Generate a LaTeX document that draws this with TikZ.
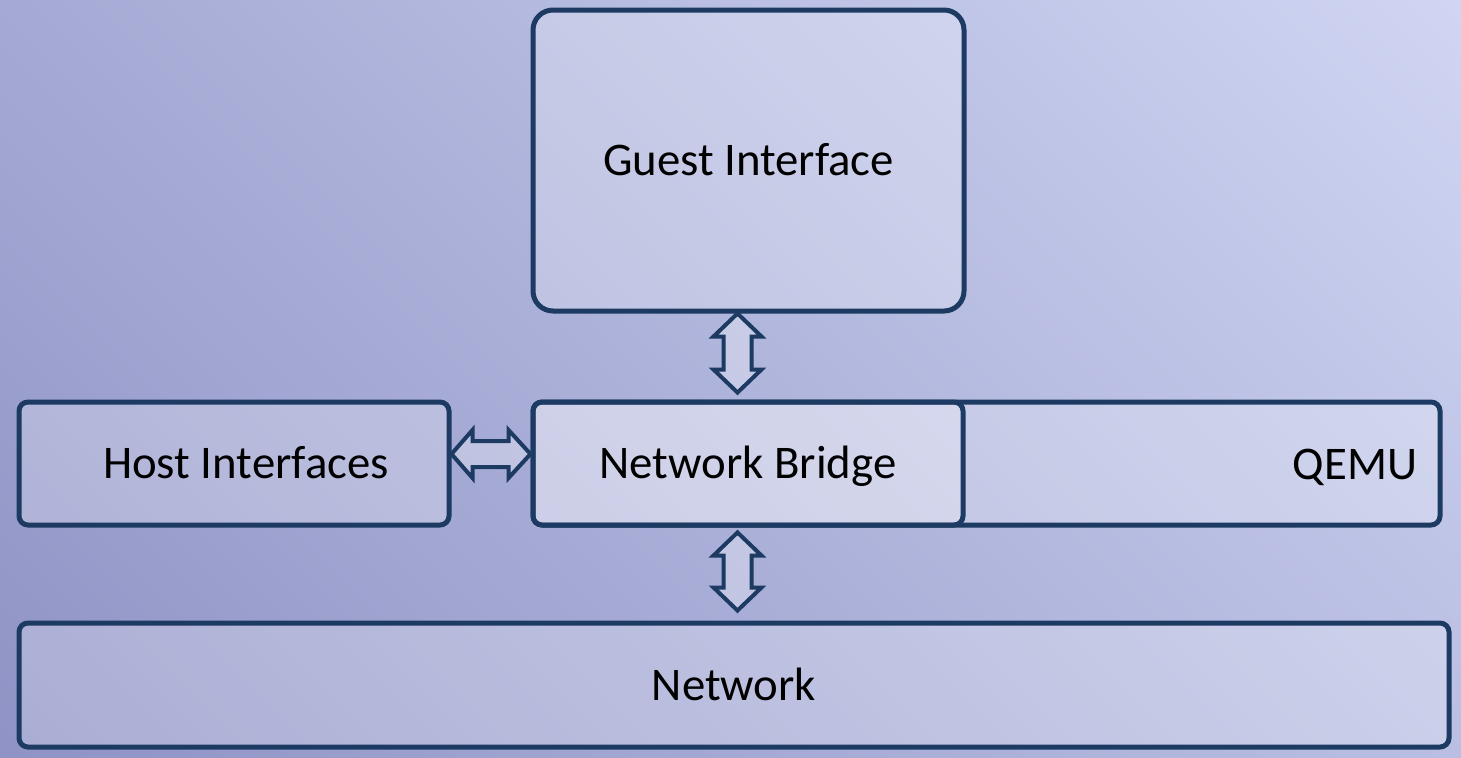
\documentclass[tikz,border=0pt]{standalone}
\usepackage{fontspec}
\setmainfont{Carlito}
\usetikzlibrary{calc}
\definecolor{bgdark}{HTML}{8F93C5}
\definecolor{bglight}{HTML}{CFD5F2}
\definecolor{navy}{HTML}{1C3A62}
\pgfdeclareverticalshading{bgdiag}{100bp}{color(0bp)=(bgdark); color(14.65bp)=(bgdark); color(85.35bp)=(bglight); color(100bp)=(bglight)}
\tikzset{
  box/.style={draw=navy, line width=2.5pt, fill=white, fill opacity=0.25, rounded corners=4.5pt, inner sep=0pt},
  bigbox/.style={box, rounded corners=10pt},
  blockarrow/.style={draw=navy, line width=2pt, fill=white, fill opacity=0.3},
  lbl/.style={font=\fontsize{23.4}{28}\selectfont, text=black, inner sep=0pt, text height=15pt, text depth=0pt}
}
\begin{document}
\begin{tikzpicture}[x=0.5pt,y=-0.5pt]
\useasboundingbox (0,0) rectangle (1461,757);
\shade[shading=bgdiag, shading angle=-45] (0,0) rectangle (1461,757);

% boxes
\node[box, minimum width=453.5pt, minimum height=61.5pt] (qemu) at (986.5,463.5) {};
\node[box, minimum width=215pt, minimum height=61.5pt] (nb) at (748,463.5) {};
\node[box, minimum width=215pt, minimum height=61.5pt] (host) at (234,463.5) {};
\node[bigbox, minimum width=215.5pt, minimum height=150.5pt] (guest) at (748.5,160.5) {};
\node[box, minimum width=715pt, minimum height=62pt] (network) at (734,685) {};

% labels
\node[lbl] (guestT) at (guest) {Guest Interface};
\node[lbl] (nbT) at (nb) {Network Bridge};
\node[lbl] (hostT) at ($(host)+(12,0)$) {Host Interfaces};
\node[lbl] (qemuT) at (1355,464) {QEMU};
\node[lbl] (networkT) at (network) {Network};

% horizontal block arrow
\coordinate (h1) at ($(host.east)+(0,-9.5)$);
\coordinate (h2) at ($(nb.west)+(0,-9.5)$);
\draw[blockarrow] (h1) -- ($(h1)+(21,-24)$) -- ($(h1)+(21,-13)$) -- ($(h2)+(-22,-13)$) -- ($(h2)+(-22,-24)$) -- (h2)
  -- ($(h2)+(-22,24)$) -- ($(h2)+(-22,13)$) -- ($(h1)+(21,13)$) -- ($(h1)+(21,24)$) -- cycle;

% vertical block arrow guest <-> bridge
\coordinate (v1) at ($(guest.south)+(-11,0)$);
\coordinate (v2) at ($(nb.north)+(-10.5,-7)$);
\draw[blockarrow] (v1) -- ($(v1)+(24,23)$) -- ($(v1)+(14,23)$) -- ($(v2)+(14,-23)$) -- ($(v2)+(24,-23)$) -- (v2)
  -- ($(v2)+(-24,-23)$) -- ($(v2)+(-14,-23)$) -- ($(v1)+(-14,23)$) -- ($(v1)+(-24,23)$) -- cycle;

% vertical block arrow bridge <-> network
\coordinate (w1) at ($(nb.south)+(-10.5,5)$);
\coordinate (w2) at ($(network.north)+(3.5,-10)$);
\draw[blockarrow] (w1) -- ($(w1)+(24,23)$) -- ($(w1)+(14,23)$) -- ($(w2)+(14,-23)$) -- ($(w2)+(24,-23)$) -- (w2)
  -- ($(w2)+(-24,-23)$) -- ($(w2)+(-14,-23)$) -- ($(w1)+(-14,23)$) -- ($(w1)+(-24,23)$) -- cycle;
\end{tikzpicture}
\end{document}
